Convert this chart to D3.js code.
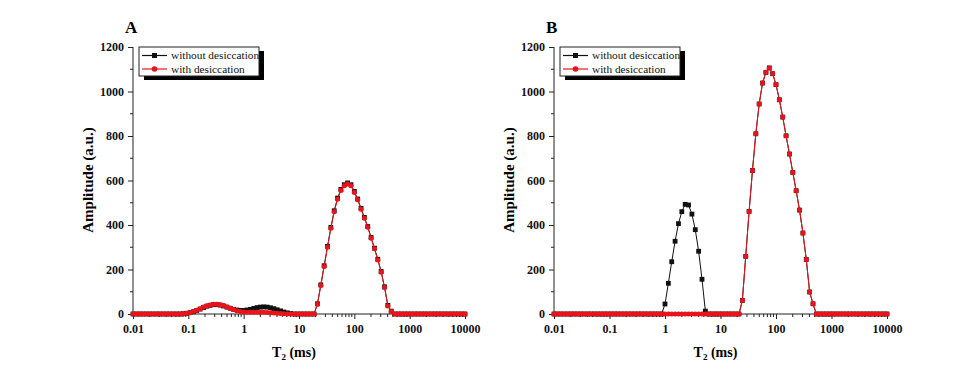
<!DOCTYPE html>
<html>
<head>
<meta charset="utf-8">
<script src="https://cdn.jsdelivr.net/npm/d3@7"></script>
<style>
  body { margin: 0; background: #fff; }
  svg text { font-family: "Liberation Serif", "Times New Roman", serif; }
</style>
</head>
<body>
<svg id="chart" width="968" height="371"></svg>
<script>
// T2 relaxation grid (ms), 100 points
var t2 = [
  0.0100, 0.0115, 0.0132, 0.0152, 0.0175, 0.0201, 0.0231, 0.0266, 0.0305, 0.0351,
  0.0404, 0.0464, 0.0534, 0.0614, 0.0705, 0.0811, 0.0933, 0.1072, 0.1233, 0.1417,
  0.1630, 0.1874, 0.2154, 0.2477, 0.2848, 0.3275, 0.3765, 0.4329, 0.4977, 0.5722,
  0.6579, 0.7565, 0.8697, 1.000, 1.150, 1.322, 1.520, 1.748, 2.009, 2.310,
  2.656, 3.054, 3.511, 4.037, 4.642, 5.337, 6.136, 7.055, 8.111, 9.326,
  10.72, 12.33, 14.17, 16.30, 18.74, 21.54, 24.77, 28.48, 32.75, 37.65,
  43.29, 49.77, 57.22, 65.79, 75.65, 86.97, 100.0, 115.0, 132.2, 152.0,
  174.8, 200.9, 231.0, 265.6, 305.4, 351.1, 403.7, 464.2, 533.7, 613.6,
  705.5, 811.1, 932.6, 1072, 1233, 1417, 1630, 1874, 2154, 2477,
  2848, 3275, 3765, 4329, 4977, 5722, 6579, 7565, 8697, 10000
];

// panel A amplitudes
var aWithout = [
  0, 0, 0, 0, 0, 0, 0, 0, 0, 0,
  0, 0, 0, 0, 0, 1, 3, 6, 10, 16,
  22, 29, 35, 39, 42, 42, 40, 36, 31, 26,
  21, 18, 16, 16, 18, 21, 25, 29, 31, 32,
  31, 28, 24, 19, 14, 9, 5, 2, 0, 0,
  0, 0, 0, 0, 0, 46, 131, 217, 304, 389,
  464, 521, 560, 581, 589, 581, 551, 517, 475, 434,
  393, 344, 296, 246, 191, 122, 39, 13, 0, 0,
  0, 0, 0, 0, 0, 0, 0, 0, 0, 0,
  0, 0, 0, 0, 0, 0, 0, 0, 0, 0
];
var aWith = [
  0, 0, 0, 0, 0, 0, 0, 0, 0, 0,
  0, 0, 0, 0, 0, 1, 3, 6, 11, 17,
  24, 31, 37, 41, 44, 44, 42, 38, 32, 26,
  20, 15, 11, 9, 8, 8, 8, 8, 8, 8,
  7, 6, 4, 3, 2, 1, 0, 0, 0, 0,
  0, 0, 0, 0, 0, 44, 128, 213, 300, 385,
  460, 516, 555, 576, 584, 576, 546, 513, 471, 430,
  390, 341, 293, 243, 188, 119, 36, 11, 0, 0,
  0, 0, 0, 0, 0, 0, 0, 0, 0, 0,
  0, 0, 0, 0, 0, 0, 0, 0, 0, 0
];

// panel B amplitudes
var bWithout = [
  0, 0, 0, 0, 0, 0, 0, 0, 0, 0,
  0, 0, 0, 0, 0, 0, 0, 0, 0, 0,
  0, 0, 0, 0, 0, 0, 0, 0, 0, 0,
  0, 0, 0, 45, 138, 235, 327, 406, 460, 493,
  490, 449, 379, 282, 156, 13, 0, 0, 0, 0,
  0, 0, 0, 0, 0, 0, 61, 259, 461, 645,
  810, 944, 1038, 1086, 1106, 1080, 1031, 963, 885, 801,
  719, 636, 554, 467, 364, 245, 99, 46, 0, 0,
  0, 0, 0, 0, 0, 0, 0, 0, 0, 0,
  0, 0, 0, 0, 0, 0, 0, 0, 0, 0
];
var bWith = [
  0, 0, 0, 0, 0, 0, 0, 0, 0, 0,
  0, 0, 0, 0, 0, 0, 0, 0, 0, 0,
  0, 0, 0, 0, 0, 0, 0, 0, 0, 0,
  0, 0, 0, 0, 0, 0, 0, 0, 0, 0,
  0, 0, 0, 0, 0, 0, 0, 0, 0, 0,
  0, 0, 0, 0, 0, 0, 61, 259, 461, 645,
  810, 944, 1038, 1086, 1106, 1080, 1031, 963, 885, 801,
  719, 636, 554, 467, 364, 245, 99, 46, 0, 0,
  0, 0, 0, 0, 0, 0, 0, 0, 0, 0,
  0, 0, 0, 0, 0, 0, 0, 0, 0, 0
];

var xTicks = [0.01, 0.1, 1, 10, 100, 1000, 10000];
var xTickLabels = ["0.01", "0.1", "1", "10", "100", "1000", "10000"];
var yTicks = [0, 200, 400, 600, 800, 1000, 1200];
var seriesNames = ["without desiccation", "with desiccation"];
var panelLabels = ["A", "B"];

var BLACK = "#111";
var RED = "#e8141c";
var svg = d3.select("#chart");

function drawPanel(opt) {
    var x = d3.scaleLog().domain([0.01, 10000]).range([opt.x0, opt.x1]);
    var y = d3.scaleLinear().domain([0, 1200]).range([314, 47]);
    var g = svg.append("g");

    // minor ticks
    var xMinor = [];
    for (var e = -2; e < 4; e++) {
        for (var m = 2; m <= 9; m++) xMinor.push(m * Math.pow(10, e));
    }
    g.append("g").selectAll("line").data(xMinor).enter().append("line")
        .attr("x1", d => x(d)).attr("x2", d => x(d))
        .attr("y1", y(0)).attr("y2", y(0) + 3)
        .attr("stroke", "#222").attr("stroke-width", 1);
    var yMinor = [100, 300, 500, 700, 900, 1100];
    g.append("g").selectAll("line").data(yMinor).enter().append("line")
        .attr("x1", opt.x0 - 3).attr("x2", opt.x0)
        .attr("y1", d => y(d)).attr("y2", d => y(d))
        .attr("stroke", "#222").attr("stroke-width", 1);

    // axes
    var xAxis = d3.axisBottom(x).tickValues(xTicks)
        .tickFormat((d, i) => xTickLabels[i]).tickSize(5).tickPadding(5);
    var gx = g.append("g").attr("transform", "translate(0," + y(0) + ")").call(xAxis);
    var yAxis = d3.axisLeft(y).tickValues(yTicks).tickFormat(d3.format("d"))
        .tickSize(5).tickPadding(4);
    var gy = g.append("g").attr("transform", "translate(" + opt.x0 + ",0)").call(yAxis);
    [gx, gy].forEach(function (a) {
        a.select(".domain").attr("stroke", "#222").attr("d",
            a === gx ? "M" + opt.x0 + ",0H" + opt.x1 : "M0," + y(0) + "V" + y(1200));
        a.selectAll(".tick line").attr("stroke", "#222");
        a.selectAll(".tick text")
            .attr("font-family", "Liberation Serif")
            .attr("font-weight", "bold")
            .attr("font-size", 12)
            .attr("fill", "#111");
    });

    // series: black first, red on top
    var line = d3.line().x((d, i) => x(t2[i])).y(d => y(d));
    g.append("path").datum(opt.without).attr("d", line)
        .attr("fill", "none").attr("stroke", BLACK).attr("stroke-width", 1);
    g.append("g").selectAll("rect").data(opt.without).enter().append("rect")
        .attr("x", (d, i) => x(t2[i]) - 2.4).attr("y", d => y(d) - 2.4)
        .attr("width", 4.8).attr("height", 4.8).attr("fill", BLACK);
    g.append("path").datum(opt.withD).attr("d", line)
        .attr("fill", "none").attr("stroke", RED).attr("stroke-width", 1);
    g.append("g").selectAll("circle").data(opt.withD).enter().append("circle")
        .attr("cx", (d, i) => x(t2[i])).attr("cy", d => y(d))
        .attr("r", 2.5).attr("fill", RED);

    // panel label
    g.append("text").attr("x", opt.x0 - 8).attr("y", 33)
        .attr("font-weight", "bold").attr("font-size", 17).text(opt.label);

    // axis titles
    g.append("text")
        .attr("transform", "translate(" + (opt.x0 - 40) + ",180) rotate(-90)")
        .attr("text-anchor", "middle").attr("font-weight", "bold").attr("font-size", 15)
        .text("Amplitude (a.u.)");
    var xt = g.append("text").attr("x", (opt.x0 + opt.x1) / 2 - 5).attr("y", 357)
        .attr("text-anchor", "middle").attr("font-weight", "bold").attr("font-size", 14);
    xt.append("tspan").text("T");
    xt.append("tspan").attr("font-size", 9).attr("dy", 3).text("2");
    xt.append("tspan").attr("dy", -3).text(" (ms)");

    // legend
    var lx = opt.x0 + 6, ly = 47, lw = 120, lh = 29;
    var lg = g.append("g");
    lg.append("rect").attr("x", lx + 5).attr("y", ly + 4).attr("width", lw).attr("height", lh).attr("fill", "#000");
    lg.append("rect").attr("x", lx).attr("y", ly).attr("width", lw).attr("height", lh)
        .attr("fill", "#fff").attr("stroke", "#222").attr("stroke-width", 1);
    var rows = [{c: BLACK, sq: true}, {c: RED, sq: false}];
    rows.forEach(function (r, i) {
        var ry = ly + 8.5 + i * 13.5;
        lg.append("line").attr("x1", lx + 3).attr("x2", lx + 28).attr("y1", ry).attr("y2", ry)
            .attr("stroke", r.c).attr("stroke-width", 1.2);
        if (r.sq) {
            lg.append("rect").attr("x", lx + 13).attr("y", ry - 2.5).attr("width", 5).attr("height", 5).attr("fill", r.c);
        } else {
            lg.append("circle").attr("cx", lx + 15.5).attr("cy", ry).attr("r", 2.8).attr("fill", r.c);
        }
        lg.append("text").attr("x", lx + 32).attr("y", ry + 3.8)
            .attr("font-size", 11.3).attr("fill", "#111").text(seriesNames[i]);
    });
}

drawPanel({x0: 133, x1: 465, without: aWithout, withD: aWith, label: panelLabels[0]});
drawPanel({x0: 554, x1: 887, without: bWithout, withD: bWith, label: panelLabels[1]});
</script>
</body>
</html>
